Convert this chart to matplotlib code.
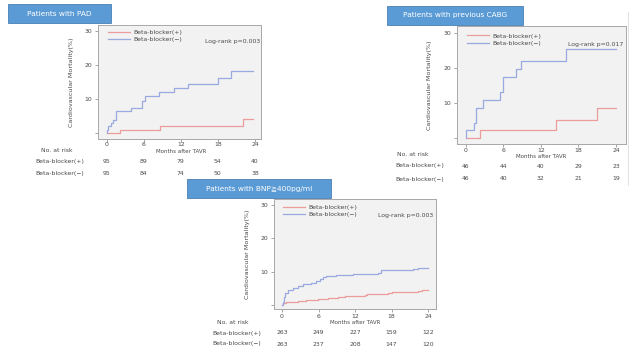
import matplotlib
matplotlib.use("Agg")
import matplotlib.pyplot as plt
from matplotlib.patches import Rectangle
from matplotlib.lines import Line2D

plt.rcParams['font.family'] = ['DejaVu Sans', 'Noto Sans CJK JP']

# ---------------- data ----------------
titles = ["Patients with PAD", "Patients with previous CABG", "Patients with BNP\u2267400pg/ml"]
series_labels = ["Beta-blocker(+)", "Beta-blocker(\u2212)"]
logrank = ["Log-rank p=0.003", "Log-rank p=0.017", "Log-rank p=0.003"]
xticks = [0, 6, 12, 18, 24]
yticks = [0, 10, 20, 30]
ytick_labels = ["", "10", "20", "30"]
xlabel = "Months after TAVR"
ylabel = "Cardiovascular Mortality(%)"
risk_header = "No. at risk"

pad_plus_t = [0, 2.2, 8.6, 22.1, 23.7]
pad_plus_y = [0, 1.1, 2.2, 4.3, 4.3]
pad_minus_t = [0, 0.1, 0.3, 0.7, 1.1, 1.6, 3.9, 5.7, 6.3, 8.5, 10.9, 13.1, 18.0, 20.2, 23.7]
pad_minus_y = [0, 1.0, 2.0, 2.9, 3.9, 6.4, 7.5, 9.5, 10.8, 12.0, 13.2, 14.4, 16.2, 18.1, 18.1]

cabg_plus_t = [0, 2.3, 14.4, 21.0, 24]
cabg_plus_y = [0, 2.2, 5.1, 8.7, 8.7]
cabg_minus_t = [0, 0.1, 1.4, 1.6, 1.75, 2.8, 5.5, 6.0, 8.1, 8.9, 16.0, 24]
cabg_minus_y = [0, 2.2, 4.4, 6.5, 8.7, 11.0, 13.1, 17.5, 19.7, 21.9, 25.4, 25.4]

bnp_plus_t = [0, 0.1, 0.7, 2.6, 4.0, 5.9, 7.6, 9.2, 10.3, 13.6, 13.9, 17.4, 18.0, 22.4, 23.0, 24]
bnp_plus_y = [0, 0.7, 1.0, 1.2, 1.5, 1.7, 2.1, 2.5, 2.7, 3.0, 3.4, 3.6, 3.9, 4.1, 4.4, 4.4]
bnp_minus_t = [0, 0.1, 0.3, 0.55, 1.0, 1.8, 2.6, 3.5, 4.8, 5.6, 6.2, 6.7, 7.3, 8.9, 11.7, 15.8, 16.3, 21.5, 22.4, 24]
bnp_minus_y = [0, 1.0, 2.5, 3.7, 4.5, 5.1, 5.8, 6.3, 6.6, 7.1, 7.8, 8.4, 8.8, 9.1, 9.4, 9.7, 10.5, 10.9, 11.2, 11.2]

pad_risk_plus = [95, 89, 79, 54, 40]
pad_risk_minus = [95, 84, 74, 50, 38]
cabg_risk_plus = [46, 44, 40, 29, 23]
cabg_risk_minus = [46, 40, 32, 21, 19]
bnp_risk_plus = [263, 249, 227, 159, 122]
bnp_risk_minus = [263, 237, 208, 147, 120]

# ---------------- style ----------------
W, H = 640, 360
RED = '#eb9c9c'
BLUE = '#9aaae0'
TXT = '#4a4a4a'
FS = 4.4

fig = plt.figure(figsize=(6.4, 3.6), dpi=100)
fig.patch.set_facecolor('white')


def fx(x):
    return x / W


def fy(y):
    return 1 - y / H


def title_box(x0, y0, x1, y1, text):
    fig.patches.append(Rectangle((fx(x0), fy(y1)), fx(x1) - fx(x0), fy(y0) - fy(y1),
                                 transform=fig.transFigure, facecolor='#5b9bd5',
                                 edgecolor='#4a7fb5', lw=0.6, zorder=5))
    fig.text(fx((x0 + x1) / 2), fy((y0 + y1) / 2), text, color='white', fontsize=5.3,
             ha='center', va='center', zorder=6)


def panel(box, x0px, x24px, y0px, y30px, curves, lr_text, legend_px, lr_px, ylab_x,
          risk, risk_hdr_px, risk_lab_x, risk_rows_y, xlab_y, ticklab_y):
    bx0, by0, bx1, by1 = box
    ax = fig.add_axes([fx(bx0), fy(by1), fx(bx1) - fx(bx0), fy(by0) - fy(by1)])
    ax.set_facecolor('#f2f2f2')
    pxm = (x24px - x0px) / 24.0
    pyu = (y0px - y30px) / 30.0
    ax.set_xlim(-(x0px - bx0) / pxm, 24 + (bx1 - x24px) / pxm)
    ax.set_ylim(-(by1 - y0px) / pyu, 30 + (y30px - by0) / pyu)
    handles = []
    for (t, v), col, lab in zip(curves, [RED, BLUE], series_labels):
        h, = ax.step(t, v, where='post', color=col, lw=0.9, label=lab)
        handles.append(h)
    for s in ax.spines.values():
        s.set_color('#a8a8a8')
        s.set_linewidth(0.7)
    ax.set_xticks(xticks)
    ax.set_xticklabels([])
    ax.set_yticks(yticks)
    ax.set_yticklabels(ytick_labels)
    ax.tick_params(axis='both', length=2, width=0.5, color='#808080',
                   labelsize=FS, labelcolor=TXT, pad=2)
    for xt in xticks:
        fig.text(fx(x0px + xt * pxm), fy(ticklab_y), str(xt), fontsize=FS, color=TXT,
                 ha='center', va='center')
    fig.text(fx((x0px + x24px) / 2), fy(xlab_y), xlabel, fontsize=4.0, color=TXT,
             ha='center', va='center')
    fig.text(fx(ylab_x), fy((by0 + by1) / 2), ylabel, fontsize=4.6, color=TXT,
             ha='center', va='center', rotation=90)
    lx, ly = legend_px
    leg = ax.legend(handles=handles, loc='upper left',
                    bbox_to_anchor=((lx - bx0) / (bx1 - bx0), 1 - (ly - by0) / (by1 - by0)),
                    frameon=False, fontsize=FS, handlelength=3.6, handletextpad=0.55,
                    borderpad=0, borderaxespad=0, labelspacing=0.3)
    for t in leg.get_texts():
        t.set_color(TXT)
    rx, ry = lr_px
    fig.text(fx(rx), fy(ry), lr_text, fontsize=FS, color=TXT, ha='right', va='center')
    fig.text(fx(risk_hdr_px[0]), fy(risk_hdr_px[1]), risk_header, fontsize=FS, color=TXT,
             ha='center', va='center')
    for row, lab, yy in zip(risk, series_labels, risk_rows_y):
        fig.text(fx(risk_lab_x), fy(yy), lab, fontsize=FS, color=TXT, ha='center', va='center')
        for xt, n in zip(xticks, row):
            fig.text(fx(x0px + xt * pxm), fy(yy), str(n), fontsize=FS, color=TXT,
                     ha='center', va='center')
    return ax


# Panel 1: PAD
panel((98, 25, 261, 139), 106.5, 255, 133.3, 30.7,
      [(pad_plus_t, pad_plus_y), (pad_minus_t, pad_minus_y)], logrank[0],
      (108, 29.5), (260, 41), 71,
      [pad_risk_plus, pad_risk_minus], (57, 150), 60, [162, 173], 151, 144)
title_box(8, 4, 111, 23, titles[0])

# Panel 2: CABG
panel((457, 26, 626, 144), 465.5, 616, 138, 33,
      [(cabg_plus_t, cabg_plus_y), (cabg_minus_t, cabg_minus_y)], logrank[1],
      (467, 33.3), (623, 44.7), 430,
      [cabg_risk_plus, cabg_risk_minus], (413, 155), 420, [166, 179], 156, 150)
title_box(387, 6, 523, 25, titles[1])

# Panel 3: BNP
panel((274, 199, 436, 309), 282, 428, 305, 205,
      [(bnp_plus_t, bnp_plus_y), (bnp_minus_t, bnp_minus_y)], logrank[2],
      (283, 204.6), (433, 215.7), 247,
      [bnp_risk_plus, bnp_risk_minus], (233, 323), 237, [333, 344], 323, 317)
title_box(187, 179, 331, 198, titles[2])

fig.add_artist(Line2D([fx(628), fx(628)], [fy(12), fy(185)], transform=fig.transFigure,
                      color='#dddddd', lw=0.6))

fig.savefig('out.png', dpi=100)
